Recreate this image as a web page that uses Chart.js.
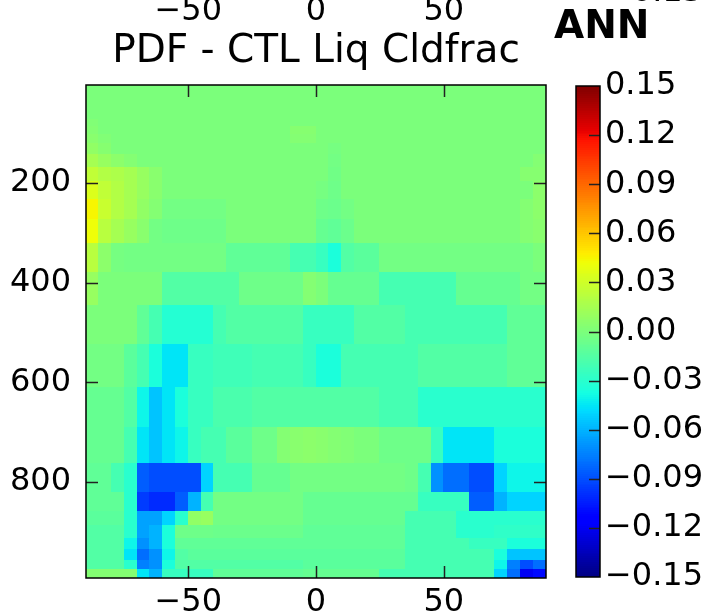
<!DOCTYPE html>
<html>
<head>
<meta charset="utf-8">
<script src="https://cdn.jsdelivr.net/npm/chart.js@4.4.1/dist/chart.umd.min.js"></script>
<style>
  body { margin: 0; background: #fff; }
  #wrap { position: relative; width: 708px; height: 615px; overflow: hidden; }
  #wrap canvas { position: absolute; left: 0; top: 0; }
</style>
</head>
<body>
<div id="wrap">
  <canvas id="heatmap" width="708" height="615"></canvas>
  <canvas id="colorbar" width="708" height="615"></canvas>
</div>
<script>
// cell edges: latitude (deg) and pressure (hPa)
var latEdges = [-90, -85, -80, -75, -70, -65, -60, -55, -50, -45, -40, -35, -30, -25, -20, -15, -10, -5, 0,
                5, 10, 15, 20, 25, 30, 35, 40, 45, 50, 55, 60, 65, 70, 75, 80, 85, 90];
var levEdges = [3.64, 7.59, 14.36, 24.61, 38.27, 54.60, 72.01, 87.82, 103.32, 121.55, 142.99, 168.23, 197.91,
                232.83, 273.91, 322.24, 379.10, 445.99, 524.69, 609.78, 691.39, 763.40, 820.86, 859.53,
                887.02, 912.64, 936.20, 957.49, 976.33, 992.56];

var latTicks = [-50, 0, 50];
var presTicks = [200, 400, 600, 800];
var cbTicks = [-0.15, -0.12, -0.09, -0.06, -0.03, 0, 0.03, 0.06, 0.09, 0.12, 0.15];

// PDF - CTL liquid cloud fraction, one row per pressure layer (top -> bottom), one value per lat band
var liqCldfracDiff = [
  [0,0,0,0,0,0,0,0,0,0,0,0,0,0,0,0,0,0,0,0,0,0,0,0,0,0,0,0,0,0,0,0,0,0,0,0],
  [0,0,0,0,0,0,0,0,0,0,0,0,0,0,0,0,0,0,0,0,0,0,0,0,0,0,0,0,0,0,0,0,0,0,0,0],
  [0,0,0,0,0,0,0,0,0,0,0,0,0,0,0,0,0,0,0,0,0,0,0,0,0,0,0,0,0,0,0,0,0,0,0,0],
  [0,0,0,0,0,0,0,0,0,0,0,0,0,0,0,0,0,0,0,0,0,0,0,0,0,0,0,0,0,0,0,0,0,0,0,0],
  [0,0,0,0,0,0,0,0,0,0,0,0,0,0,0,0,0,0,0,0,0,0,0,0,0,0,0,0,0,0,0,0,0,0,0,0],
  [0,0,0,0,0,0,0,0,0,0,0,0,0,0,0,0,0,0,0,0,0,0,0,0,0,0,0,0,0,0,0,0,0,0,0,0],
  [0.002,0,0,0,0,0,0,0,0,0,0,0,0,0,0,0,0,0,0,0,0,0,0,0,0,0,0,0,0,0,0,0,0,0,0,0],
  [0.003,0,0,0,0,0,0,0,0,0,0,0,0,0,0,0,0.004,0.004,0,0,0,0,0,0,0,0,0,0,0,0,0,0,0,0,0,0],
  [0.005,0.002,0,0,0,0,0,0,0,0,0,0,0,0,0,0,0.003,0.003,0,0,0,0,0,0,0,0,0,0,0,0,0,0,0,0,0,0],
  [0.008,0.004,0,0,0,0,0,0,0,0,0,0,0,0,0,0,0,0,0,-0.002,0,0,0,0,0,0,0,0,0,0,0,0,0,0,0,0],
  [0.015,0.01,0.006,0.003,0,0,0,0,0,0,0,0,0,0,0,0,0,0,0,-0.003,0,0,0,0,0,0,0,0,0,0,0,0,0,0,0,0.003],
  [0.025,0.02,0.018,0.015,0.01,0.005,0,0,0,0,0,0,0,0,0,0,0,0,0,-0.004,0,0,0,0,0,0,0,0,0,0,0,0,0,0,0.004,0.004],
  [0.035,0.025,0.02,0.015,0.01,0.005,0,0,0,0,0,0,0,0,0,0,0,0,-0.002,-0.005,0,0,0,0,0,0,0,0,0,0,0,0,0,0,0,0.006],
  [0.045,0.028,0.02,0.015,0.008,0.003,-0.003,-0.003,-0.003,-0.003,-0.003,0,0,0,0,0,0,0,-0.005,-0.006,-0.003,0,0,0,0,0,0,0,0,0,0,0,0,0,0.003,0.006],
  [0.042,0.022,0.015,0.01,0.005,-0.003,-0.005,-0.005,-0.005,-0.005,-0.005,0,0,0,0,0,0,0,-0.008,-0.01,-0.006,0,0,0,0,0,0,0,0,0,0,0,0,0,0.003,0.005],
  [0.022,0.006,-0.002,-0.003,-0.003,-0.003,-0.003,-0.003,-0.003,-0.003,-0.003,-0.01,-0.01,-0.01,-0.01,-0.01,-0.02,-0.02,-0.025,-0.035,-0.015,-0.012,-0.012,-0.003,-0.003,-0.003,-0.003,-0.003,-0.003,-0.003,-0.003,-0.003,-0.003,-0.003,-0.003,0],
  [0.01,0,0,0,0,0,-0.015,-0.015,-0.015,-0.015,-0.015,-0.015,-0.005,-0.005,-0.005,-0.005,-0.005,0.003,0,-0.008,-0.008,-0.008,-0.008,-0.02,-0.02,-0.02,-0.02,-0.02,-0.02,-0.008,-0.008,-0.008,-0.008,-0.008,-0.003,-0.003],
  [0,0,0,0,-0.01,-0.02,-0.032,-0.032,-0.032,-0.032,-0.02,-0.015,-0.015,-0.015,-0.015,-0.015,-0.015,-0.025,-0.025,-0.025,-0.025,-0.015,-0.015,-0.015,-0.015,-0.02,-0.02,-0.02,-0.02,-0.02,-0.02,-0.02,-0.02,-0.01,-0.01,-0.01],
  [-0.003,-0.003,-0.003,-0.012,-0.02,-0.035,-0.045,-0.045,-0.025,-0.025,-0.022,-0.022,-0.022,-0.02,-0.02,-0.02,-0.02,-0.025,-0.035,-0.035,-0.02,-0.02,-0.02,-0.02,-0.02,-0.02,-0.015,-0.015,-0.015,-0.015,-0.015,-0.015,-0.015,-0.01,-0.01,-0.01],
  [-0.008,-0.008,-0.008,-0.015,-0.04,-0.055,-0.045,-0.035,-0.025,-0.025,-0.018,-0.018,-0.018,-0.015,-0.015,-0.015,-0.015,-0.015,-0.015,-0.015,-0.015,-0.015,-0.015,-0.02,-0.02,-0.02,-0.03,-0.03,-0.03,-0.03,-0.03,-0.03,-0.03,-0.03,-0.03,-0.03],
  [-0.008,-0.008,-0.008,-0.02,-0.045,-0.055,-0.045,-0.04,-0.025,-0.02,-0.02,-0.012,-0.012,-0.005,-0.005,0.003,0.005,0.006,0.005,0.003,0.002,0,0,-0.005,-0.005,-0.005,-0.005,-0.025,-0.045,-0.045,-0.045,-0.045,-0.035,-0.035,-0.035,-0.035],
  [-0.01,-0.01,-0.02,-0.03,-0.085,-0.09,-0.09,-0.09,-0.09,-0.05,-0.02,-0.02,-0.02,-0.008,-0.008,-0.008,-0.003,-0.003,-0.003,-0.003,-0.003,-0.003,-0.003,-0.003,-0.003,-0.005,-0.02,-0.07,-0.08,-0.08,-0.09,-0.09,-0.05,-0.04,-0.04,-0.04],
  [-0.01,-0.01,-0.01,-0.03,-0.095,-0.1,-0.1,-0.085,-0.06,-0.02,-0.003,-0.003,-0.003,-0.003,-0.003,-0.003,-0.003,-0.008,-0.008,-0.008,-0.008,-0.008,-0.008,-0.008,-0.008,-0.008,-0.025,-0.025,-0.025,-0.025,-0.085,-0.085,-0.06,-0.05,-0.05,-0.05],
  [-0.012,-0.012,-0.012,-0.03,-0.065,-0.065,-0.05,-0.03,0.008,0.01,-0.003,-0.003,-0.003,-0.003,-0.003,-0.003,-0.003,-0.008,-0.008,-0.008,-0.008,-0.008,-0.008,-0.008,-0.008,-0.02,-0.02,-0.02,-0.02,-0.03,-0.03,-0.03,-0.03,-0.03,-0.03,-0.03],
  [-0.015,-0.015,-0.015,-0.03,-0.065,-0.06,-0.035,-0.005,-0.005,-0.005,-0.006,-0.006,-0.006,-0.006,-0.006,-0.006,-0.006,-0.01,-0.01,-0.01,-0.01,-0.01,-0.01,-0.01,-0.01,-0.02,-0.02,-0.02,-0.02,-0.03,-0.03,-0.03,-0.028,-0.028,-0.028,-0.028],
  [-0.015,-0.015,-0.015,-0.04,-0.07,-0.06,-0.035,-0.01,-0.01,-0.01,-0.01,-0.01,-0.01,-0.01,-0.01,-0.01,-0.01,-0.01,-0.01,-0.01,-0.01,-0.01,-0.01,-0.01,-0.01,-0.02,-0.02,-0.02,-0.02,-0.02,-0.025,-0.025,-0.025,-0.035,-0.035,-0.035],
  [-0.015,-0.015,-0.015,-0.045,-0.08,-0.07,-0.04,-0.015,-0.012,-0.012,-0.012,-0.012,-0.012,-0.012,-0.012,-0.012,-0.012,-0.012,-0.012,-0.012,-0.012,-0.012,-0.012,-0.012,-0.012,-0.02,-0.02,-0.02,-0.02,-0.02,-0.02,-0.02,-0.035,-0.055,-0.055,-0.055],
  [-0.015,-0.015,-0.015,-0.03,-0.075,-0.07,-0.035,-0.015,-0.015,-0.015,-0.015,-0.015,-0.015,-0.015,-0.015,-0.015,-0.015,-0.012,-0.012,-0.012,-0.012,-0.012,-0.012,-0.012,-0.012,-0.02,-0.02,-0.02,-0.02,-0.02,-0.02,-0.02,-0.04,-0.075,-0.09,-0.08],
  [0.003,0.003,0.003,0.003,-0.045,-0.06,-0.025,-0.025,-0.025,-0.025,-0.01,-0.01,-0.01,-0.01,-0.01,-0.01,-0.01,-0.008,-0.008,-0.008,-0.008,-0.008,-0.008,-0.02,-0.02,-0.02,-0.02,-0.02,-0.02,-0.02,-0.02,-0.02,-0.05,-0.08,-0.12,-0.11]
];

var fontName = "'DejaVu Sans', sans-serif";

// matplotlib jet colormap
var jetR = [[0, 0], [0.35, 0], [0.66, 1], [0.89, 1], [1, 0.5]];
var jetG = [[0, 0], [0.125, 0], [0.375, 1], [0.64, 1], [0.91, 0], [1, 0]];
var jetB = [[0, 0.5], [0.11, 1], [0.34, 1], [0.65, 0], [1, 0]];

function segVal(seg, t) {
    for (var k = 1; k < seg.length; k++) {
        if (t <= seg[k][0]) {
            var f = (t - seg[k - 1][0]) / (seg[k][0] - seg[k - 1][0]);
            return seg[k - 1][1] + f * (seg[k][1] - seg[k - 1][1]);
        }
    }
    return seg[seg.length - 1][1];
}

function jet(v) {
    var t = (v + 0.15) / 0.3;
    t = Math.max(0, Math.min(1, t));
    return 'rgb(' + Math.round(segVal(jetR, t) * 255) + ',' + Math.round(segVal(jetG, t) * 255) + ',' + Math.round(segVal(jetB, t) * 255) + ')';
}

function minusFmt(s) {
    return String(s).replace('-', '\u2212');
}

var heatPlugin = {
    id: 'heatCells',
    beforeDatasetsDraw: function(chart) {
        var ctx = chart.ctx, xs = chart.scales.x, ys = chart.scales.y;
        ctx.save();
        for (var j = 0; j < liqCldfracDiff.length; j++) {
            var y0 = ys.getPixelForValue(levEdges[j]);
            var y1 = ys.getPixelForValue(levEdges[j + 1]);
            for (var i = 0; i < liqCldfracDiff[j].length; i++) {
                var x0 = xs.getPixelForValue(latEdges[i]);
                var x1 = xs.getPixelForValue(latEdges[i + 1]);
                ctx.fillStyle = jet(liqCldfracDiff[j][i]);
                ctx.fillRect(Math.floor(x0), Math.floor(y0), Math.ceil(x1) - Math.floor(x0), Math.ceil(y1) - Math.floor(y0));
            }
        }
        ctx.restore();
    },
    afterDraw: function(chart) {
        var ctx = chart.ctx, a = chart.chartArea, xs = chart.scales.x, ys = chart.scales.y;
        ctx.save();
        // inward ticks on all four sides
        ctx.strokeStyle = '#222';
        ctx.lineWidth = 1.5;
        ctx.beginPath();
        latTicks.forEach(function(v) {
            var x = Math.round(xs.getPixelForValue(v)) + 0.5;
            ctx.moveTo(x, a.bottom); ctx.lineTo(x, a.bottom - 12);
            ctx.moveTo(x, a.top); ctx.lineTo(x, a.top + 12);
        });
        presTicks.forEach(function(v) {
            var y = Math.round(ys.getPixelForValue(v)) + 0.5;
            ctx.moveTo(a.left, y); ctx.lineTo(a.left + 12, y);
            ctx.moveTo(a.right, y); ctx.lineTo(a.right - 12, y);
        });
        ctx.stroke();
        ctx.strokeStyle = '#000';
        ctx.strokeRect(a.left, a.top, a.right - a.left, a.bottom - a.top);

        // texts
        ctx.fillStyle = '#000';
        ctx.textBaseline = 'alphabetic';
        ctx.textAlign = 'center';
        ctx.font = '39px ' + fontName;
        ctx.fillText('PDF - CTL Liq Cldfrac', (a.left + a.right) / 2, 62);
        // tick labels of the panel above (cut by the image edge)
        ctx.font = '32px ' + fontName;
        latTicks.forEach(function(v) {
            ctx.fillText(minusFmt(v), xs.getPixelForValue(v), 20);
        });
        ctx.textAlign = 'left';
        ctx.fillText('\u22120.15', 605, 1);
        ctx.font = 'bold 39px ' + fontName;
        ctx.fillText('ANN', 554, 38);
        ctx.restore();
    }
};

var heatChart = new Chart(document.getElementById('heatmap').getContext('2d'), {
    type: 'scatter',
    data: { datasets: [{ data: [] }] },
    options: {
        responsive: false,
        animation: false,
        events: [],
        layout: { padding: { left: 0, top: 85, right: 162, bottom: 0 } },
        plugins: { legend: { display: false }, tooltip: { enabled: false } },
        scales: {
            x: {
                type: 'linear',
                min: latEdges[0],
                max: latEdges[latEdges.length - 1],
                afterBuildTicks: function(scale) {
                    scale.ticks = latTicks.map(function(v) { return { value: v }; });
                },
                afterFit: function(scale) { scale.height = 37; },
                grid: { display: false, drawTicks: false },
                border: { display: false },
                ticks: {
                    padding: 5,
                    color: '#000',
                    font: { family: fontName, size: 32 },
                    maxRotation: 0,
                    callback: function(v) { return minusFmt(v); }
                }
            },
            y: {
                type: 'linear',
                reverse: true,
                min: levEdges[0],
                max: levEdges[levEdges.length - 1],
                afterBuildTicks: function(scale) {
                    scale.ticks = presTicks.map(function(v) { return { value: v }; });
                },
                afterFit: function(scale) { scale.width = 86; },
                grid: { display: false, drawTicks: false },
                border: { display: false },
                ticks: {
                    padding: 15,
                    color: '#000',
                    font: { family: fontName, size: 32 },
                    callback: function(v) { return String(v); }
                }
            }
        }
    },
    plugins: [heatPlugin]
});

var cbPlugin = {
    id: 'cbFill',
    beforeDatasetsDraw: function(chart) {
        var ctx = chart.ctx, a = chart.chartArea, ys = chart.scales.y;
        var lo = cbTicks[0], hi = cbTicks[cbTicks.length - 1], n = 256;
        ctx.save();
        for (var k = 0; k < n; k++) {
            var v0 = lo + (hi - lo) * k / n, v1 = lo + (hi - lo) * (k + 1) / n;
            var yA = ys.getPixelForValue(v1), yB = ys.getPixelForValue(v0);
            ctx.fillStyle = jet((v0 + v1) / 2);
            ctx.fillRect(a.left, Math.floor(yA), a.right - a.left, Math.ceil(yB) - Math.floor(yA));
        }
        ctx.strokeStyle = '#222';
        ctx.lineWidth = 1.5;
        ctx.beginPath();
        cbTicks.slice(1, -1).forEach(function(v) {
            var y = Math.round(ys.getPixelForValue(v)) + 0.5;
            ctx.moveTo(a.right, y); ctx.lineTo(a.right - 11, y);
        });
        ctx.stroke();
        ctx.strokeStyle = '#000';
        ctx.strokeRect(a.left, a.top, a.right - a.left, a.bottom - a.top);
        ctx.restore();
    }
};

var cbChart = new Chart(document.getElementById('colorbar').getContext('2d'), {
    type: 'scatter',
    data: { datasets: [{ data: [] }] },
    options: {
        responsive: false,
        animation: false,
        events: [],
        layout: { padding: { left: 576, top: 86, right: 0, bottom: 38 } },
        plugins: { legend: { display: false }, tooltip: { enabled: false } },
        scales: {
            x: { type: 'linear', display: false, min: 0, max: 1 },
            y: {
                type: 'linear',
                position: 'right',
                min: cbTicks[0],
                max: cbTicks[cbTicks.length - 1],
                afterBuildTicks: function(scale) {
                    scale.ticks = cbTicks.map(function(v) { return { value: v }; });
                },
                afterFit: function(scale) { scale.width = 108; },
                grid: { display: false, drawTicks: false },
                border: { display: false },
                ticks: {
                    padding: 5,
                    color: '#000',
                    font: { family: fontName, size: 32 },
                    callback: function(v) { return minusFmt(Number(v).toFixed(2)); }
                }
            }
        }
    },
    plugins: [cbPlugin]
});
</script>
</body>
</html>
